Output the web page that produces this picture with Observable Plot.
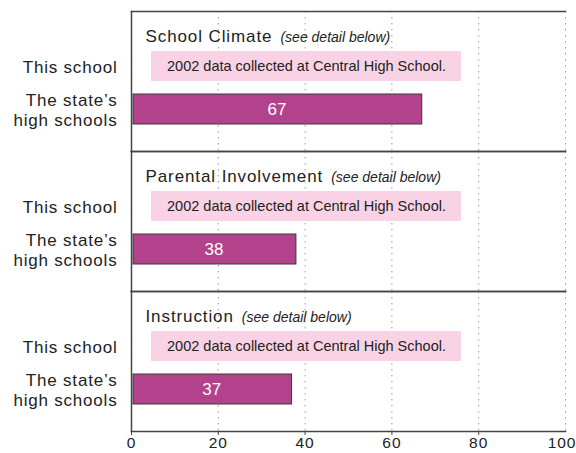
<!DOCTYPE html>
<html>
<head>
<meta charset="utf-8">
<script src="https://cdn.jsdelivr.net/npm/d3@7"></script>
<script src="https://cdn.jsdelivr.net/npm/@observablehq/plot@0.6"></script>
<style>
  body { margin: 0; background: #fff; }
  svg [aria-label="y-axis tick label"] text { letter-spacing: 0.8px; }
  svg [aria-label="x-axis tick label"] text { letter-spacing: 1px; }
</style>
</head>
<body>
<div id="chart"></div>
<script>
const panels = ["School Climate", "Parental Involvement", "Instruction"];
const rows = ["This school", "The state’s high schools"];
const stateValues = [67, 38, 37];
const noteText = "(see detail below)";
const schoolNote = "2002 data collected at Central High School.";
const xTicks = [0, 20, 40, 60, 80, 100];
const gridTicks = [20, 40, 60, 80, 100];

const bars = panels.map((p, i) => ({panel: p, row: rows[1], value: stateValues[i]}));
const notes = panels.map(p => ({panel: p, row: rows[0], text: schoolNote}));
const lastTick = xTicks[xTicks.length - 1];

const chart = Plot.plot({
  width: 576,
  height: 453,
  marginLeft: 131,
  marginRight: 11,
  marginTop: 10,
  marginBottom: 21,
  style: {fontFamily: "'Liberation Sans', Arial, sans-serif", color: "#222", background: "#fff"},
  x: {domain: [0, 100]},
  y: {domain: rows, paddingInner: 0.3, paddingOuter: 0.75, align: 0.6},
  fy: {domain: panels, padding: 0, axis: null},
  marks: [
    Plot.gridX(gridTicks, {stroke: "#999", strokeOpacity: 1, strokeWidth: 1, strokeDasharray: "1.5,4.5"}),
    Plot.cell(notes, {fy: "panel", y: "row", fill: "#f9d3e5", insetLeft: 20, insetRight: 104}),
    Plot.text(notes, {fy: "panel", y: "row", frameAnchor: "middle", dx: -42, text: "text", fontSize: 14.5, fill: "#222"}),
    Plot.barX(bars, {fy: "panel", y: "row", x: "value", fill: "#b3428c", stroke: "#3a3a3a", strokeWidth: 1, insetLeft: 2}),
    Plot.text(bars, {fy: "panel", y: "row", x: d => d.value / 2, text: d => String(d.value), fill: "#fff", fontSize: 17}),
    Plot.text(panels, {fy: d => d, frameAnchor: "top-left", dx: 14, dy: 25, lineAnchor: "middle", text: d => d, fontSize: 17, fill: "#222"}),
    Plot.frame({anchor: "top", stroke: "#444", strokeWidth: 1.5}),
    Plot.frame({anchor: "left", stroke: "#444", strokeWidth: 1.5}),
    Plot.frame({anchor: "bottom", stroke: "#444", strokeWidth: 1.5}),
    Plot.axisY({tickSize: 0, tickPadding: 14, fontSize: 17, lineHeight: 1.18, label: null,
      tickFormat: d => d === rows[1] ? "The state’s\nhigh schools" : d}),
    Plot.axisX({ticks: xTicks.slice(0, -1), tickSize: 4, tickPadding: 1, fontSize: 15.5, label: null, stroke: "#444"}),
    Plot.axisX({ticks: [lastTick], tickSize: 4, tickPadding: 1, fontSize: 15.5, label: null, stroke: "#444", textAnchor: "end", dx: 11})
  ]
});

// letter-spacing on panel titles and append the italic note after each title
d3.select(chart).selectAll("text")
  .filter(function() { return panels.includes(this.textContent); })
  .style("letter-spacing", "0.9px")
  .each(function() {
    d3.select(this).append("tspan")
      .attr("dx", 8)
      .style("font-style", "italic")
      .style("font-size", "14px")
      .style("letter-spacing", "0px")
      .text(noteText);
  });

document.getElementById("chart").appendChild(chart);
</script>
</body>
</html>
